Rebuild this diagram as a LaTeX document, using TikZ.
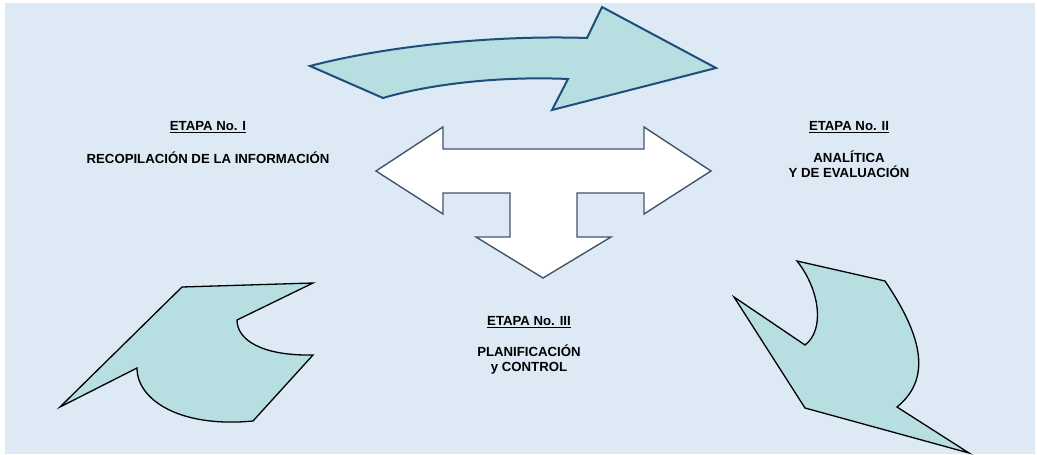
\documentclass[tikz,border=0pt]{standalone}
\usepackage{fontspec}
\setmainfont{Liberation Sans}
\definecolor{fondo}{RGB}{221,233,245}
\definecolor{turquesa}{RGB}{183,222,225}
\definecolor{azuloscuro}{RGB}{31,78,121}
\definecolor{grisazul}{RGB}{68,84,106}
\tikzset{
  etiqueta/.style={font=\fontsize{13.2}{15}\selectfont\bfseries, align=center, inner sep=0pt},
  flecha/.style={fill=turquesa, draw=black, line width=1.3pt, line join=miter}
}
\begin{document}
\begin{tikzpicture}[x=1pt,y=-1pt]
    \useasboundingbox (0,0) rectangle (1037,455);
    \fill[fondo] (5,3) rectangle (1035,454);
    % flecha curva superior
    \draw[fill=turquesa, draw=azuloscuro, line width=2pt, line join=miter]
      (310,66) .. controls (390,45) and (500,35) .. (587,38)
      -- (602,7) -- (716,68) -- (552,110) -- (568,79)
      .. controls (500,76) and (430,84) .. (383,98) -- cycle;
    % flecha en T
    \draw[fill=white, draw=grisazul, line width=1.4pt, line join=miter]
      (376,171) -- (443,127) -- (443,149) -- (644,149) -- (644,127)
      -- (711,171) -- (644,214) -- (644,193) -- (577,193) -- (577,237)
      -- (611,237) -- (543,278) -- (476,237) -- (510,237) -- (510,193)
      -- (443,193) -- (443,214) -- cycle;
    % flecha izquierda
    \draw[flecha]
      (60,407) -- (182,287) -- (313,283) -- (237,320)
      .. controls (237,340) and (262,356) .. (313,355)
      -- (253,421) .. controls (180,428) and (137,400) .. (137,368) -- cycle;
    % flecha derecha
    \draw[flecha]
      (797,261) -- (885,281) .. controls (925,340) and (930,380) .. (897,407)
      -- (969,453) -- (805,408) -- (734,297) -- (805,345)
      .. controls (825,330) and (820,290) .. (797,261) -- cycle;
    % textos
    \node[etiqueta] (etapaI) at (208,127) {\underline{ETAPA No. I}};
    \node[etiqueta] (textoI) at (208,158) {RECOPILACIÓN DE LA INFORMACIÓN};
    \node[etiqueta] (etapaII) at (849,127) {\underline{ETAPA No. II}};
    \node[etiqueta] (textoII) at (849,164.5) {ANALÍTICA\\Y DE EVALUACIÓN};
    \node[etiqueta] (etapaIII) at (529,322) {\underline{ETAPA No. III}};
    \node[etiqueta] (textoIII) at (529,359.5) {PLANIFICACIÓN\\y CONTROL};
  \end{tikzpicture}
\end{document}
